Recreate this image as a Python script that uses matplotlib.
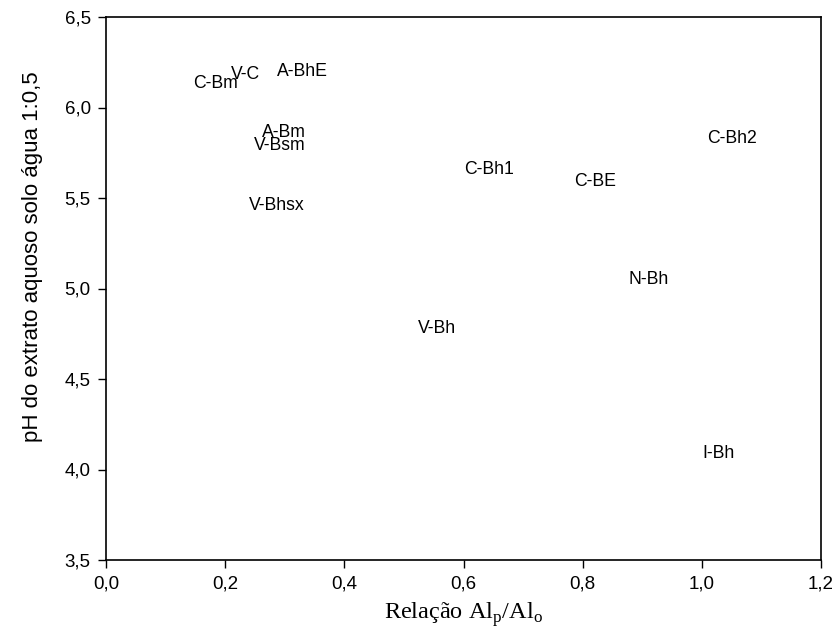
import matplotlib
matplotlib.use("Agg")
import matplotlib.pyplot as plt

labels = ["C-Bm", "V-C", "A-BhE", "A-Bm", "V-Bsm", "V-Bhsx", "C-Bh1", "C-BE",
          "C-Bh2", "N-Bh", "V-Bh", "I-Bh"]
alp_alo = [0.183, 0.234, 0.329, 0.299, 0.292, 0.287, 0.643, 0.820,
           1.050, 0.910, 0.555, 1.028]
ph = [6.13, 6.18, 6.20, 5.86, 5.79, 5.46, 5.66, 5.59,
      5.83, 5.05, 4.78, 4.09]

xticks = [0.0, 0.2, 0.4, 0.6, 0.8, 1.0, 1.2]
yticks = [3.5, 4.0, 4.5, 5.0, 5.5, 6.0, 6.5]

plt.rcParams['font.family'] = ['Liberation Sans', 'DejaVu Sans']

fig = plt.figure(figsize=(8.38, 6.27), dpi=100)
ax = fig.add_axes([106/838, 1 - 560/627, (821-106)/838, (560-17)/627])

for lab, x, y in zip(labels, alp_alo, ph):
    ax.text(x, y, lab, ha='center', va='center', fontsize=12.7)

ax.set_xlim(0, 1.2)
ax.set_ylim(3.5, 6.5)
ax.set_xticks(xticks)
ax.set_yticks(yticks)
ax.set_xticklabels([f"{v:.1f}".replace('.', ',') for v in xticks], fontsize=13.5)
ax.set_yticklabels([f"{v:.1f}".replace('.', ',') for v in yticks], fontsize=13.5)
ax.tick_params(direction='out', length=6, width=1, top=False, right=False, pad=5)
for s in ax.spines.values():
    s.set_linewidth(1.2)

ax.set_ylabel("pH do extrato aquoso solo água 1:0,5", fontsize=16, va='center')
ax.yaxis.set_label_coords((33 - 106) / 715, (560 - 257) / 543)
ax.set_xlabel(r"Relação Al$_\mathregular{p}$/Al$_\mathregular{o}$", fontsize=17.5,
              fontfamily='Liberation Serif', va='baseline')
ax.xaxis.set_label_coords((463 - 106) / 715, -(619 - 560) / 543)

fig.savefig("out.png", dpi=100)
